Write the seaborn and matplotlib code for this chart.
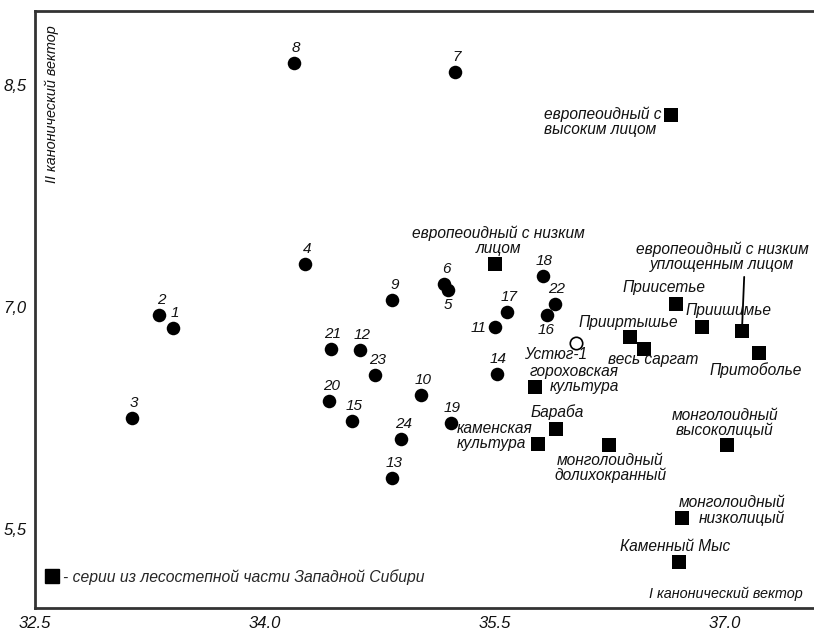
import matplotlib
matplotlib.use('Agg')
import matplotlib.pyplot as plt
from matplotlib.lines import Line2D
from matplotlib.ticker import FuncFormatter
import seaborn as sns
import pandas as pd

# ---------------- data ----------------
series_ids = [str(i) for i in range(1, 25)]
series_x = [33.40, 33.31, 33.13, 34.26, 35.19, 35.17, 35.24, 34.19, 34.83, 35.02,
            35.50, 34.62, 34.83, 35.51, 34.57, 35.84, 35.58, 35.81, 35.21, 34.42,
            34.43, 35.89, 34.72, 34.89]
series_y = [6.86, 6.95, 6.25, 7.29, 7.12, 7.16, 8.59, 8.65, 7.05, 6.41,
            6.87, 6.71, 5.85, 6.55, 6.23, 6.95, 6.97, 7.21, 6.22, 6.37,
            6.72, 7.02, 6.54, 6.11]

ref_names = ['европеоидный с\nвысоким лицом', 'европеоидный с низким\nлицом',
             'европеоидный с низким\nуплощенным лицом', 'Приисетье', 'Приишимье',
             'Прииртышье', 'весь саргат', 'Притоболье', 'гороховская\nкультура',
             'Бараба', 'каменская\nкультура', 'монголоидный\nдолихокранный',
             'монголоидный\nвысоколицый', 'монголоидный\nнизколицый', 'Каменный Мыс']
ref_x = [36.65, 35.50, 37.11, 36.68, 36.85, 36.38, 36.47, 37.22, 35.76, 35.90,
         35.78, 36.24, 37.01, 36.72, 36.70]
ref_y = [8.30, 7.29, 6.84, 7.02, 6.87, 6.80, 6.72, 6.69, 6.46, 6.18,
         6.08, 6.07, 6.07, 5.58, 5.28]

ustyug_name = ['Устюг-1']
ustyug_x = [36.03]
ustyug_y = [6.76]

x_ticks = [32.5, 34.0, 35.5, 37.0]
y_ticks = [5.5, 7.0, 8.5]
x_title = 'I канонический вектор'
y_title = 'II канонический вектор'
legend_text = '- серии из лесостепной части Западной Сибири'

# ---------------- label styling (pixel offsets) ----------------
num_offsets = {i: (2, 15, 'center') for i in series_ids}
num_offsets['5'] = (0, -15, 'center')
num_offsets['16'] = (-1, -15, 'center')
num_offsets['11'] = (-9, -1, 'right')

ref_offsets = [(-10, -7, 'right', 'left'), (3, 24, 'center', 'center'),
               (-20, 74, 'center', 'center'), (-12, 17, 'center', 'center'),
               (26, 16, 'center', 'center'), (-2, 14, 'center', 'center'),
               (9, -11, 'center', 'center'), (-3, -17, 'center', 'center'),
               (84, 8, 'right', 'right'), (1, 17, 'center', 'center'),
               (-81, 8, 'left', 'left'), (2, -23, 'center', 'center'),
               (-2, 22, 'center', 'center'), (103, 7, 'right', 'right'),
               (-4, 16, 'center', 'center')]
ustyug_offset = (-21, -12)

# ---------------- figure ----------------
sns.set_theme(style='white')
plt.rcParams['font.family'] = ['Liberation Sans', 'DejaVu Sans']
plt.rcParams['font.style'] = 'italic'

fig = plt.figure(figsize=(8.14, 6.30), dpi=100)
ax = fig.add_axes([35 / 814, 22 / 630, 779 / 814, 597 / 630])

df_series = pd.DataFrame({'x': series_x, 'y': series_y, 'id': series_ids})
df_ref = pd.DataFrame({'x': ref_x, 'y': ref_y, 'name': ref_names})
df_ust = pd.DataFrame({'x': ustyug_x, 'y': ustyug_y, 'name': ustyug_name})

sns.scatterplot(data=df_series, x='x', y='y', ax=ax, marker='o', s=95,
                color='black', edgecolor='black', linewidth=0, zorder=3)
sns.scatterplot(data=df_ref, x='x', y='y', ax=ax, marker='s', s=115,
                color='black', edgecolor='black', linewidth=0, zorder=3)
sns.scatterplot(data=df_ust, x='x', y='y', ax=ax, marker='o', s=80,
                facecolor='white', edgecolor='black', linewidth=1.2, zorder=3)

FS_NUM = 11
FS_TXT = 11.2

for sid, xv, yv in zip(series_ids, series_x, series_y):
    dx, dy, ha = num_offsets[sid]
    ax.annotate(sid, (xv, yv), xytext=(dx, dy), textcoords='offset pixels',
                ha=ha, va='center', fontsize=FS_NUM, color='#111111', zorder=4)

for i, (nm, xv, yv) in enumerate(zip(ref_names, ref_x, ref_y)):
    dx, dy, ha, ma = ref_offsets[i]
    if i == 2:
        ax.annotate(nm, (xv, yv), xytext=(dx, dy), textcoords='offset pixels',
                    ha=ha, va='center', multialignment=ma, fontsize=FS_TXT,
                    linespacing=1.0, color='#111111', zorder=4,
                    arrowprops=dict(arrowstyle='-', color='black', lw=1.3,
                                    relpos=(0.63, 0.0), shrinkA=1, shrinkB=3))
    else:
        ax.annotate(nm, (xv, yv), xytext=(dx, dy), textcoords='offset pixels',
                    ha=ha, va='center', multialignment=ma, fontsize=FS_TXT,
                    linespacing=1.0, color='#111111', zorder=4)

ax.annotate(ustyug_name[0], (ustyug_x[0], ustyug_y[0]), xytext=ustyug_offset,
            textcoords='offset pixels', ha='center', va='center',
            fontsize=FS_TXT, color='#111111', zorder=4)

# axes limits / ticks
ax.set_xlim(32.5, 37.58)
ax.set_ylim(4.97, 9.0)
ax.set_xticks(x_ticks)
ax.set_yticks(y_ticks)
ax.xaxis.set_major_formatter(FuncFormatter(lambda v, p: f'{v:.1f}'))
ax.yaxis.set_major_formatter(FuncFormatter(lambda v, p: f'{v:.1f}'.replace('.', ',')))
ax.tick_params(axis='both', length=0, labelsize=12, colors='#111111')
ax.tick_params(axis='x', pad=6)
ax.tick_params(axis='y', pad=6)
ax.grid(False)

for side in ['left', 'top', 'bottom']:
    ax.spines[side].set_visible(True)
    ax.spines[side].set_color('#333333')
    ax.spines[side].set_linewidth(2.0)
ax.spines['right'].set_visible(False)

ax.set_xlabel(x_title, fontsize=10.4, ha='right', va='center', color='#111111')
ax.xaxis.set_label_coords(0.986, 0.0235)
ax.set_ylabel(y_title, fontsize=10.4, ha='right', va='center', color='#111111')
ax.yaxis.set_label_coords(0.0218, 0.9765)

handle = Line2D([], [], marker='s', color='black', linestyle='none',
                markersize=10.5)
ax.legend([handle], [legend_text], loc='center left',
          bbox_to_anchor=(0.012, 0.0524), frameon=False, borderpad=0,
          borderaxespad=0, handlelength=1.0, handletextpad=0.2,
          prop={'size': 11.3, 'style': 'italic'})

fig.savefig('out.png', dpi=100)
